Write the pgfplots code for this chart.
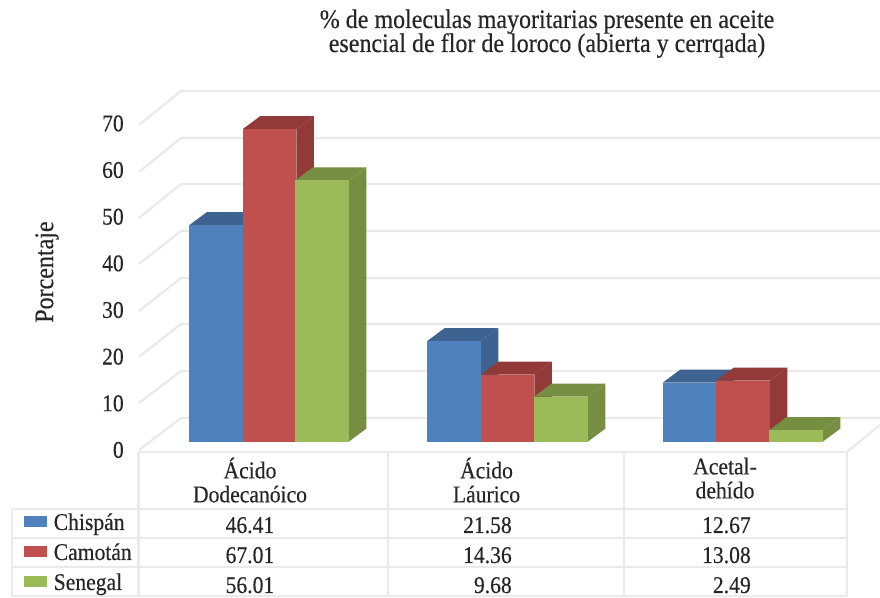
\documentclass[border=0pt]{standalone}
\usepackage{fontspec}
\setmainfont{Liberation Serif}[FakeStretch=0.9,FakeBold=0.35]
\usepackage{pgfplots}
\pgfplotsset{compat=1.18}
\definecolor{gridc}{HTML}{EAEAEA}
\definecolor{txt}{HTML}{262626}
\definecolor{blueF}{HTML}{4F81BD}
\definecolor{blueD}{HTML}{3E6390}
\definecolor{redF}{HTML}{C0504D}
\definecolor{redD}{HTML}{923A38}
\definecolor{greenF}{HTML}{9BBB59}
\definecolor{greenD}{HTML}{768E42}
\newcommand{\lbl}{\fontsize{18}{18}\selectfont\color{txt}}
\newcommand{\lblbig}{\fontsize{20}{18}\selectfont\color{txt}}
% one 3D bar: centre x, value, front colour, dark colour
\newcommand{\barthreed}[4]{%
  \pgfmathsetmacro{\xa}{#1-26.75}%
  \pgfmathsetmacro{\xb}{#1+26.75}%
  \pgfmathsetmacro{\xc}{#1+26.75+17.5}%
  \pgfmathsetmacro{\xd}{#1-26.75+17.5}%
  \pgfmathsetmacro{\vt}{#2+2.79}%
  \addplot[fill=#4,draw=none,forget plot] coordinates {(\xb,0) (\xc,2.79) (\xc,\vt) (\xb,#2)};
  \addplot[fill=#4,draw=none,forget plot] coordinates {(\xa,#2) (\xd,\vt) (\xc,\vt) (\xb,#2)};
  \addplot[ybar,bar shift=0pt,bar width=40.1pt,fill=#3,draw=none,forget plot] coordinates {(#1,#2)};
}
\begin{document}
\begin{tikzpicture}
\path[use as bounding box] (0,0) rectangle (660pt,448.5pt);
\begin{scope}[x=0.75pt,y=-0.75pt,yshift=448.5pt]
  % back wall and floor
  \foreach \f/\b in {450/418,403/371,357/324,311/278,264/231,218/184,172/138,125/91}
    \draw[gridc,line width=1.7pt] (139,\f) -- (181,\b) -- (880,\b);
  \draw[gridc,line width=1.7pt] (847,452) -- (880,425);
  % data table grid
  \draw[gridc,line width=1.7pt] (138.5,452) -- (847,452);
  \foreach \y in {509,538,567,596} \draw[gridc,line width=1.7pt] (12,\y) -- (847,\y);
  \draw[gridc,line width=1.7pt] (12,509) -- (12,596);
  \foreach \x in {138.5,388,623.7,847} \draw[gridc,line width=1.7pt] (\x,452) -- (\x,596);
  % legend keys
  \fill[blueF] (24,516) rectangle (47,527);
  \fill[redF] (24,546) rectangle (47,557);
  \fill[greenF] (24,576) rectangle (47,587);
  \tikzset{t/.style={inner sep=0pt,font=\lbl}}
  \node[t,anchor=base west] at (53.5,530) {Chispán};
  \node[t,anchor=base west] at (53.5,560) {Camotán};
  \node[t,anchor=base west] at (53.5,590) {Senegal};
  % table values
  \node[t,anchor=base east] at (274.5,533) {46.41};
  \node[t,anchor=base east] at (274.5,563) {67.01};
  \node[t,anchor=base east] at (274.5,593) {56.01};
  \node[t,anchor=base east] at (512,533) {21.58};
  \node[t,anchor=base east] at (512,563) {14.36};
  \node[t,anchor=base east] at (512,593) {9.68};
  \node[t,anchor=base east] at (751,533) {12.67};
  \node[t,anchor=base east] at (751,563) {13.08};
  \node[t,anchor=base east] at (751,593) {2.49};
  % title
  \node[inner sep=0pt,anchor=base,font=\lblbig] at (547,28) {\% de moleculas mayoritarias presente en aceite};
  \node[inner sep=0pt,anchor=base,font=\lblbig] at (547,52) {esencial de flor de loroco (abierta y cerrqada)};
\end{scope}
\begin{axis}[
  at={(0,0)},anchor=south west,
  scale only axis,width=660pt,height=448.5pt,
  xmin=0,xmax=880,ymin=-33.505,ymax=94.683,
  axis line style={draw=none},
  major tick length=0pt,
  ytick={0,10,20,30,40,50,60,70},
  /pgf/number format/assume math mode=true,
  yticklabel style={font=\lbl,xshift=93pt,yshift=-6.2pt,inner sep=0pt},
  xtick={250,486.5,725},
  xticklabels={{Ácido\\Dodecanóico},{Ácido\\Láurico},{Acetal-\\dehído}},
  xticklabel style={font=\lbl,align=center,yshift=108.75pt},
  ylabel={Porcentaje},
  every axis y label/.style={at={(axis description cs:0.0535,0.545)},rotate=90,anchor=center,font=\lblbig},
]
\barthreed{216}{46.41}{blueF}{blueD}
\barthreed{269.5}{67.01}{redF}{redD}
\barthreed{322}{56.01}{greenF}{greenD}
\barthreed{454}{21.58}{blueF}{blueD}
\barthreed{507.5}{14.36}{redF}{redD}
\barthreed{561}{9.68}{greenF}{greenD}
\barthreed{689.5}{12.67}{blueF}{blueD}
\barthreed{743}{13.08}{redF}{redD}
\barthreed{796}{2.49}{greenF}{greenD}
\end{axis}
\end{tikzpicture}
\end{document}
